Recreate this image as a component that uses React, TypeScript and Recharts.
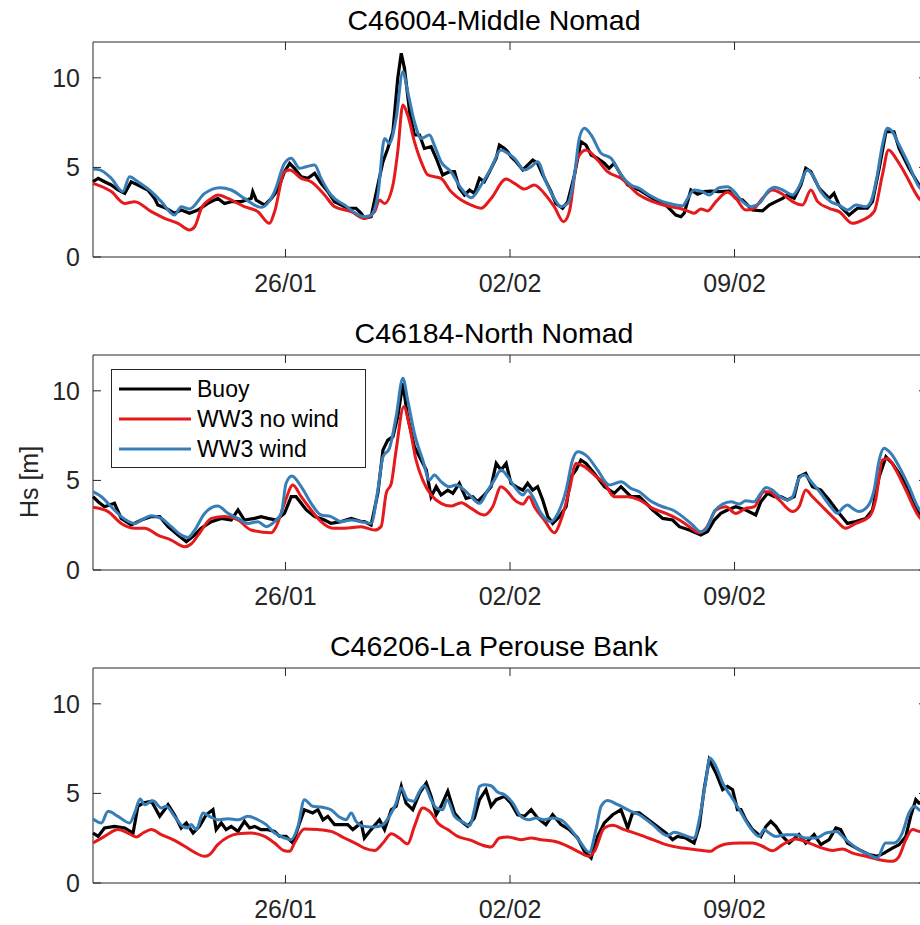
import { LineChart, Line, XAxis, YAxis, ReferenceArea, Legend } from 'recharts'

type Pt = [number, number]

// time axis: days since 20/01 00:00
const dayTicks = [6, 13, 20]
const dayLabels = ['26/01', '02/02', '09/02']
const hsTicks = [0, 5, 10]
const stations = ['C46004-Middle Nomad', 'C46184-North Nomad', 'C46206-La Perouse Bank']
const seriesNames = ['Buoy', 'WW3 no wind', 'WW3 wind']
const seriesColors = ['#000000', '#e41a1c', '#377eb8']

// C46004 - Middle Nomad
const middleBuoy: Pt[] = [
  [0, 4.2], [0.16, 4.39], [0.36, 4.2], [0.57, 4.02], [0.78, 3.74], [0.99, 3.55], [1.19, 4.2], [1.4, 4.02],
  [1.71, 3.74], [1.92, 3.27], [2.02, 2.9], [2.28, 2.72], [2.54, 2.44], [2.75, 2.62], [3.01, 2.44], [3.27, 2.62],
  [3.58, 2.99], [3.89, 3.27], [4.1, 2.99], [4.31, 3.09], [4.62, 3.09], [4.93, 3.27], [4.98, 3.65], [5.09, 3.18],
  [5.35, 2.9], [5.56, 3.27], [5.76, 3.74], [5.97, 4.76], [6.13, 5.23], [6.28, 4.95], [6.49, 4.48], [6.7, 4.39],
  [6.91, 4.67], [7.11, 4.11], [7.32, 3.65], [7.53, 3.09], [7.94, 2.72], [8.2, 2.72], [8.36, 2.44],
  [8.46, 2.16], [8.67, 2.25], [8.88, 4.02], [9.04, 5.32], [9.19, 6.06], [9.35, 6.99], [9.5, 9.97], [9.61, 11.37],
  [9.71, 10.53], [9.87, 8.11], [10.02, 6.81], [10.18, 6.81], [10.33, 6.06], [10.54, 6.16], [10.7, 5.51],
  [10.9, 4.58], [11.11, 4.76], [11.27, 4.76], [11.42, 3.83], [11.58, 3.46], [11.74, 3.74], [11.89, 3.55],
  [12.05, 4.39], [12.2, 4.2], [12.36, 4.76], [12.57, 5.51], [12.67, 6.25], [12.83, 6.06], [12.93, 5.88],
  [13.03, 5.6], [13.19, 5.32], [13.4, 4.86], [13.55, 5.13], [13.71, 5.41], [13.86, 5.23], [14.02, 4.58],
  [14.28, 3.65], [14.43, 2.99], [14.64, 2.72], [14.8, 3.09], [15.01, 4.58], [15.21, 6.44], [15.37, 6.25],
  [15.53, 5.69], [15.73, 5.51], [15.94, 5.23], [16.09, 4.95], [16.25, 5.23], [16.46, 4.58], [16.67, 4.02],
  [17.03, 3.74], [17.45, 3.27], [17.86, 2.9], [18.17, 2.34], [18.33, 2.25], [18.43, 2.44], [18.64, 3.74],
  [18.85, 3.5], [19.05, 3.65], [19.26, 3.68], [19.52, 3.65], [19.83, 3.68], [20.04, 3.27], [20.25, 3.18],
  [20.56, 2.62], [20.87, 2.57], [21.08, 2.9], [21.29, 3.09], [21.5, 3.27], [21.65, 3.46], [21.86, 3.27],
  [22.07, 4.02], [22.22, 4.95], [22.38, 4.76], [22.64, 3.83], [22.95, 3.27], [23.1, 3.55], [23.26, 2.9],
  [23.57, 2.34], [23.83, 2.72], [24.14, 2.72], [24.3, 3.09], [24.51, 4.95], [24.72, 6.99], [24.97, 6.99],
  [25.13, 6.06], [25.44, 4.95], [25.75, 4.02], [26, 3.5],
]
const middleNoWind: Pt[] = [
  [0, 4.11], [0.57, 3.65], [0.99, 2.99], [1.3, 3.09], [1.82, 2.53], [2.23, 2.16], [2.65, 1.88], [3.01, 1.51],
  [3.17, 1.69], [3.38, 2.72], [3.69, 3.27], [3.89, 3.46], [4.21, 3.27], [4.72, 2.81], [5.14, 2.53], [5.5, 1.88],
  [5.66, 2.53], [5.97, 4.76], [6.13, 4.86], [6.49, 4.39], [6.8, 4.2], [7.22, 3.46], [7.53, 2.81], [8.05, 2.53],
  [8.46, 2.16], [8.78, 2.53], [8.93, 3.18], [9.09, 2.99], [9.35, 4.02], [9.5, 5.88], [9.66, 8.48], [9.81, 7.92],
  [10.02, 6.44], [10.23, 5.32], [10.44, 4.58], [10.85, 4.39], [11.16, 3.65], [11.48, 3.18], [11.79, 2.9],
  [12.1, 2.72], [12.41, 3.27], [12.88, 4.35], [13.14, 4.11], [13.45, 3.79], [13.76, 4.02], [14.07, 3.55],
  [14.38, 2.81], [14.67, 1.97], [14.85, 2.53], [15.11, 5.51], [15.37, 5.97], [15.73, 5.41], [16.04, 4.76],
  [16.46, 4.39], [17.03, 3.46], [17.45, 3.09], [17.86, 2.86], [18.28, 2.72], [18.59, 2.53], [18.74, 2.44],
  [18.95, 2.68], [19.16, 2.57], [19.42, 3.09], [19.78, 3.61], [20.04, 3.27], [20.35, 2.62], [20.61, 2.72],
  [20.87, 3.27], [21.18, 3.74], [21.5, 3.5], [21.81, 3.09], [22.12, 2.9], [22.38, 3.74], [22.59, 3.09],
  [22.95, 2.72], [23.26, 2.53], [23.68, 1.88], [23.99, 2.06], [24.35, 2.53], [24.61, 4.58], [24.8, 5.97],
  [25.03, 5.51], [25.34, 4.58], [25.75, 3.27], [26, 2.9],
]
const middleWind: Pt[] = [
  [0, 4.91], [0.21, 4.86], [0.57, 4.39], [0.93, 3.65], [1.14, 4.48], [1.4, 4.2], [1.82, 3.65], [2.13, 3.09],
  [2.54, 2.34], [2.75, 2.81], [3.01, 2.68], [3.48, 3.55], [3.95, 3.87], [4.31, 3.74], [4.72, 3.27], [5.24, 2.77],
  [5.66, 3.65], [5.97, 5.23], [6.18, 5.51], [6.44, 4.95], [6.65, 5.04], [6.91, 5.13], [7.11, 4.39], [7.42, 3.46],
  [7.84, 2.9], [8.46, 2.25], [8.67, 2.34], [8.88, 3.46], [9.09, 6.62], [9.24, 6.34], [9.45, 7.74], [9.66, 10.34],
  [9.81, 9.23], [10.02, 7.55], [10.23, 6.62], [10.49, 6.81], [10.64, 6.25], [10.85, 5.32], [11.16, 4.76],
  [11.48, 3.83], [11.79, 3.31], [12.1, 4.02], [12.41, 4.95], [12.72, 5.97], [12.93, 5.79], [13.14, 5.51],
  [13.45, 4.86], [13.66, 5.04], [13.86, 5.32], [14.12, 4.2], [14.38, 3.27], [14.59, 2.81], [14.8, 2.99],
  [15.01, 4.58], [15.16, 6.62], [15.32, 7.18], [15.53, 6.81], [15.84, 5.79], [16.15, 5.51], [16.46, 4.58],
  [16.77, 4.02], [17.03, 3.83], [17.34, 3.46], [17.76, 3.09], [18.07, 2.94], [18.38, 2.86], [18.54, 3.27],
  [18.74, 3.74], [19.0, 3.65], [19.21, 3.46], [19.52, 3.87], [19.78, 3.92], [19.99, 3.65], [20.25, 3.09],
  [20.51, 2.81], [20.77, 2.99], [21.08, 3.74], [21.24, 3.89], [21.5, 3.74], [21.81, 3.46], [22.01, 3.92],
  [22.27, 4.86], [22.43, 4.58], [22.69, 3.65], [23.0, 3.09], [23.26, 2.9], [23.52, 2.62], [23.78, 2.9],
  [24.09, 2.81], [24.25, 3.09], [24.45, 4.58], [24.61, 6.25], [24.77, 7.18], [24.92, 6.99], [25.13, 6.25],
  [25.44, 5.13], [25.72, 4.0], [26, 3.5],
]

// C46184 - North Nomad
const northBuoy: Pt[] = [
  [0, 4.09], [0.16, 3.81], [0.36, 3.53], [0.67, 3.72], [0.88, 2.88], [1.19, 2.51], [1.51, 2.79], [1.82, 2.98],
  [2.08, 2.98], [2.34, 2.42], [2.65, 1.95], [2.91, 1.58], [3.17, 1.95], [3.37, 2.33], [3.69, 2.7], [4.0, 2.88],
  [4.31, 2.79], [4.52, 3.35], [4.72, 2.79], [5.04, 2.88], [5.24, 2.98], [5.45, 2.88], [5.71, 2.79], [5.97, 3.16],
  [6.18, 4.09], [6.33, 4.09], [6.49, 3.72], [6.65, 3.35], [6.91, 2.98], [7.22, 2.79], [7.42, 2.6], [7.74, 2.7],
  [8.05, 2.88], [8.36, 2.7], [8.46, 2.7], [8.67, 2.51], [8.88, 4.28], [9.04, 6.7], [9.19, 7.25], [9.35, 7.44],
  [9.5, 8.56], [9.66, 10.42], [9.81, 8.56], [10.02, 6.88], [10.23, 6.14], [10.39, 5.58], [10.54, 4.09],
  [10.7, 4.65], [10.85, 4.19], [11.06, 4.46], [11.22, 4.28], [11.42, 4.84], [11.63, 4.0], [11.84, 4.09],
  [11.99, 3.81], [12.2, 4.19], [12.41, 4.65], [12.57, 5.95], [12.72, 5.58], [12.88, 5.95], [13.03, 4.84],
  [13.19, 4.65], [13.4, 4.46], [13.55, 4.84], [13.71, 4.46], [13.86, 4.65], [14.02, 3.91], [14.18, 2.98],
  [14.33, 2.6], [14.54, 2.98], [14.75, 3.53], [14.9, 5.21], [15.06, 5.58], [15.21, 6.14], [15.37, 5.95],
  [15.63, 5.39], [15.94, 4.65], [16.25, 4.28], [16.46, 4.65], [16.77, 4.09], [17.03, 4.09], [17.45, 3.35],
  [17.76, 2.88], [18.07, 2.79], [18.28, 2.42], [18.59, 2.23], [18.95, 1.95], [19.16, 2.14], [19.37, 2.79],
  [19.57, 3.16], [19.78, 3.35], [20.04, 3.53], [20.35, 3.35], [20.66, 3.07], [20.82, 3.81], [21.03, 4.28],
  [21.24, 4.09], [21.44, 4.09], [21.65, 3.91], [21.86, 4.09], [22.01, 5.21], [22.22, 5.39], [22.43, 4.65],
  [22.69, 4.46], [22.95, 3.91], [23.26, 3.16], [23.52, 2.6], [23.78, 2.7], [24.09, 2.88], [24.3, 3.35],
  [24.51, 5.21], [24.72, 6.32], [24.92, 5.95], [25.13, 5.39], [25.44, 4.46], [25.75, 3.16], [26, 2.7],
]
const northNoWind: Pt[] = [
  [0, 3.5], [0.47, 3.26], [0.88, 2.6], [1.3, 2.33], [1.61, 2.33], [2.02, 1.95], [2.44, 1.67], [2.86, 1.3],
  [3.06, 1.45], [3.32, 2.05], [3.69, 2.88], [4.1, 2.98], [4.52, 2.79], [4.93, 2.23], [5.56, 2.08], [5.71, 2.42],
  [5.97, 3.72], [6.23, 4.74], [6.49, 4.09], [6.8, 3.35], [7.11, 2.7], [7.48, 2.33], [7.84, 2.33], [8.36, 2.42],
  [8.78, 2.23], [8.98, 2.42], [9.14, 4.28], [9.3, 4.84], [9.45, 6.7], [9.69, 9.11], [9.87, 8.0], [10.07, 6.14],
  [10.28, 5.02], [10.54, 4.19], [10.85, 3.72], [11.16, 3.57], [11.48, 3.76], [11.79, 3.44], [12.2, 3.07],
  [12.46, 3.53], [12.72, 4.65], [12.88, 4.46], [13.14, 3.91], [13.4, 3.68], [13.6, 4.09], [13.76, 3.53],
  [14.07, 2.79], [14.38, 2.08], [14.59, 2.79], [14.85, 4.46], [15.06, 5.95], [15.32, 5.77], [15.63, 5.3],
  [15.94, 4.84], [16.25, 4.09], [16.67, 4.09], [17.03, 3.91], [17.45, 3.44], [17.86, 3.16], [18.28, 2.79],
  [18.59, 2.42], [18.9, 2.08], [19.11, 2.33], [19.42, 3.35], [19.73, 3.53], [20.04, 3.16], [20.35, 3.44],
  [20.61, 3.53], [20.92, 4.37], [21.08, 4.37], [21.39, 3.91], [21.81, 3.26], [22.01, 3.53], [22.22, 4.46],
  [22.43, 4.09], [22.74, 3.53], [23.16, 2.79], [23.47, 2.33], [23.78, 2.6], [24.2, 2.98], [24.4, 3.91],
  [24.61, 6.14], [24.77, 6.23], [25.03, 5.58], [25.34, 4.46], [25.75, 2.98], [26, 2.6],
]
const northWind: Pt[] = [
  [0, 4.37], [0.26, 4.09], [0.57, 3.53], [0.88, 2.98], [1.3, 2.6], [1.51, 2.79], [1.82, 3.03], [2.13, 2.88],
  [2.44, 2.42], [2.75, 1.95], [2.96, 1.82], [3.17, 2.23], [3.48, 3.16], [3.89, 3.57], [4.21, 3.16], [4.52, 2.88],
  [4.83, 2.6], [5.14, 2.7], [5.4, 2.42], [5.66, 2.7], [5.87, 3.16], [6.02, 4.84], [6.2, 5.25], [6.49, 4.65],
  [6.8, 3.72], [7.11, 3.07], [7.42, 2.98], [7.74, 2.7], [8.05, 2.79], [8.36, 2.7], [8.67, 2.6], [8.88, 4.46],
  [9.04, 6.32], [9.24, 6.79], [9.45, 8.56], [9.66, 10.7], [9.81, 9.49], [10.02, 7.63], [10.28, 6.14],
  [10.49, 5.02], [10.64, 5.3], [10.85, 4.93], [11.11, 4.65], [11.32, 4.74], [11.58, 4.46], [11.79, 4.09],
  [12.05, 3.72], [12.31, 4.46], [12.51, 5.02], [12.72, 5.58], [12.93, 5.21], [13.14, 4.65], [13.4, 4.19],
  [13.55, 4.46], [13.71, 4.09], [13.97, 3.16], [14.28, 2.7], [14.49, 3.16], [14.75, 4.46], [14.95, 6.14],
  [15.11, 6.6], [15.42, 6.32], [15.73, 5.58], [16.1, 4.74], [16.46, 4.93], [16.77, 4.56], [17.03, 4.37],
  [17.34, 3.91], [17.76, 3.53], [18.07, 3.35], [18.38, 2.98], [18.69, 2.51], [18.95, 2.14], [19.16, 2.42],
  [19.37, 3.26], [19.63, 3.68], [19.89, 3.81], [20.15, 3.68], [20.35, 3.87], [20.61, 3.81], [20.82, 4.28],
  [20.98, 4.61], [21.18, 4.46], [21.39, 4.13], [21.65, 3.91], [21.81, 4.09], [22.01, 5.12], [22.17, 5.3],
  [22.43, 4.84], [22.69, 4.28], [23.0, 3.53], [23.21, 3.16], [23.36, 3.44], [23.52, 3.63], [23.68, 3.44],
  [23.88, 3.26], [24.14, 3.53], [24.35, 4.46], [24.51, 6.14], [24.66, 6.79], [24.87, 6.51], [25.13, 5.77],
  [25.44, 4.65], [25.72, 3.5], [26, 2.9],
]

// C46206 - La Perouse Bank
const perouseBuoy: Pt[] = [
  [0, 2.79], [0.16, 2.6], [0.36, 3.07], [0.67, 3.16], [0.99, 3.07], [1.25, 2.79], [1.4, 4.28], [1.56, 4.46],
  [1.82, 4.56], [1.97, 4.09], [2.08, 3.72], [2.23, 4.09], [2.34, 4.37], [2.54, 3.81], [2.75, 3.07], [2.91, 3.35],
  [3.12, 2.79], [3.32, 3.16], [3.53, 3.81], [3.74, 4.09], [3.84, 2.98], [4.0, 3.35], [4.15, 2.98], [4.31, 3.16],
  [4.52, 2.88], [4.72, 3.44], [4.88, 3.07], [5.04, 3.16], [5.24, 2.98], [5.45, 2.98], [5.66, 2.88], [5.82, 2.6],
  [6.02, 2.6], [6.23, 2.23], [6.44, 3.35], [6.59, 4.09], [6.85, 3.91], [7.01, 4.09], [7.17, 3.53], [7.32, 3.72],
  [7.53, 3.26], [7.74, 3.26], [7.94, 3.26], [8.1, 2.98], [8.36, 3.35], [8.46, 2.51], [8.67, 2.98], [8.93, 3.53],
  [9.09, 2.98], [9.3, 4.09], [9.45, 4.28], [9.61, 5.39], [9.76, 4.46], [9.97, 4.09], [10.18, 5.02], [10.39, 5.58],
  [10.54, 4.84], [10.7, 3.81], [10.85, 4.28], [11.06, 5.12], [11.27, 3.91], [11.48, 3.44], [11.68, 3.16],
  [11.89, 3.63], [12.05, 4.65], [12.25, 5.21], [12.41, 4.28], [12.57, 4.65], [12.83, 4.84], [13.03, 4.46],
  [13.24, 3.81], [13.45, 3.72], [13.66, 4.09], [13.86, 3.63], [14.12, 3.26], [14.33, 3.81], [14.59, 3.26],
  [14.85, 2.98], [15.11, 2.51], [15.32, 1.77], [15.53, 1.4], [15.73, 2.6], [15.94, 3.35], [16.2, 3.81],
  [16.46, 4.09], [16.67, 3.07], [16.82, 3.91], [17.03, 3.91], [17.45, 3.35], [17.86, 2.79], [18.07, 2.42],
  [18.22, 2.6], [18.48, 2.51], [18.74, 2.23], [18.9, 3.16], [19.05, 5.21], [19.21, 6.88], [19.42, 6.14],
  [19.63, 5.21], [19.78, 5.39], [19.94, 5.21], [20.09, 4.09], [20.2, 4.09], [20.35, 3.53], [20.56, 2.98],
  [20.82, 2.6], [20.98, 3.16], [21.13, 3.44], [21.29, 3.16], [21.5, 2.6], [21.7, 2.23], [22.01, 2.7],
  [22.22, 2.23], [22.48, 2.7], [22.69, 2.14], [22.95, 2.42], [23.16, 3.07], [23.31, 2.98], [23.52, 2.23],
  [23.88, 1.86], [24.2, 1.58], [24.45, 1.49], [24.66, 1.67], [24.92, 1.95], [25.13, 2.14], [25.34, 2.6],
  [25.49, 3.72], [25.65, 4.65], [25.75, 4.46], [26, 4.6],
]
const perouseNoWind: Pt[] = [
  [0, 2.23], [0.36, 2.6], [0.78, 2.98], [1.09, 2.79], [1.35, 2.57], [1.56, 2.79], [1.82, 2.98], [2.13, 2.7],
  [2.49, 2.42], [2.86, 2.05], [3.17, 1.71], [3.48, 1.49], [3.63, 1.58], [3.89, 2.14], [4.21, 2.57], [4.52, 2.75],
  [4.93, 2.79], [5.35, 2.6], [5.66, 2.23], [5.97, 1.8], [6.13, 1.77], [6.28, 2.23], [6.59, 3.01], [7.01, 2.98],
  [7.42, 2.88], [7.84, 2.51], [8.26, 2.14], [8.46, 1.95], [8.78, 1.82], [9.04, 2.23], [9.3, 2.75], [9.55, 2.51],
  [9.81, 2.19], [10.02, 3.16], [10.28, 4.19], [10.54, 3.91], [10.75, 3.35], [11.06, 2.98], [11.37, 2.6],
  [11.79, 2.38], [12.1, 2.14], [12.41, 2.01], [12.67, 2.51], [12.93, 2.57], [13.34, 2.42], [13.66, 2.51],
  [13.97, 2.42], [14.38, 2.33], [14.69, 2.14], [15.11, 1.77], [15.47, 1.49], [15.63, 1.77], [15.94, 3.07],
  [16.2, 3.22], [16.56, 2.98], [17.03, 2.7], [17.45, 2.42], [17.86, 2.14], [18.38, 1.95], [18.8, 1.86],
  [19.26, 1.77], [19.42, 1.95], [19.73, 2.18], [20.15, 2.23], [20.56, 2.23], [20.87, 2.05], [21.18, 1.8],
  [21.5, 2.14], [21.91, 2.46], [22.33, 2.23], [22.74, 1.95], [23.05, 1.82], [23.36, 1.9], [23.68, 1.67],
  [24.09, 1.49], [24.51, 1.3], [24.92, 1.21], [25.13, 1.49], [25.34, 2.42], [25.55, 2.98], [25.75, 2.88],
  [26, 2.8],
]
const perouseWind: Pt[] = [
  [0, 3.57], [0.26, 3.35], [0.47, 4.0], [0.78, 3.72], [1.14, 3.35], [1.3, 3.91], [1.47, 4.69], [1.61, 4.37],
  [1.87, 4.59], [2.13, 4.19], [2.28, 4.28], [2.54, 3.72], [2.8, 3.16], [2.96, 3.07], [3.06, 3.26], [3.22, 2.98],
  [3.43, 3.91], [3.63, 3.72], [3.89, 3.53], [4.21, 3.59], [4.52, 3.53], [4.83, 3.72], [5.14, 3.53], [5.4, 3.26],
  [5.66, 2.79], [5.97, 2.51], [6.18, 2.42], [6.39, 3.16], [6.59, 4.65], [6.85, 4.28], [7.11, 4.24], [7.42, 4.09],
  [7.68, 3.68], [7.89, 3.53], [8.05, 3.91], [8.2, 3.44], [8.46, 3.16], [8.78, 3.13], [9.04, 3.26], [9.24, 3.72],
  [9.45, 4.46], [9.61, 5.3], [9.81, 4.65], [10.0, 4.56], [10.18, 5.12], [10.33, 5.43], [10.54, 4.65],
  [10.7, 4.19], [10.9, 4.09], [11.04, 4.65], [11.27, 3.72], [11.58, 3.35], [11.74, 3.2], [11.89, 4.09],
  [12.05, 5.39], [12.2, 5.49], [12.41, 5.43], [12.62, 5.06], [12.83, 4.93], [13.09, 4.46], [13.34, 3.72],
  [13.6, 3.53], [13.81, 3.63], [14.07, 3.53], [14.33, 3.63], [14.59, 3.53], [14.9, 2.98], [15.21, 2.23],
  [15.47, 1.71], [15.68, 2.98], [15.84, 4.28], [16.04, 4.61], [16.36, 4.37], [16.77, 4.0], [17.03, 3.81],
  [17.45, 3.26], [17.91, 2.64], [18.12, 2.83], [18.38, 2.7], [18.74, 2.51], [18.9, 3.53], [19.11, 5.77],
  [19.23, 6.98], [19.42, 6.51], [19.63, 5.58], [19.89, 4.84], [20.15, 4.09], [20.46, 3.16], [20.77, 2.6],
  [20.92, 2.98], [21.08, 2.79], [21.29, 2.6], [21.6, 2.7], [21.91, 2.7], [22.22, 2.51], [22.53, 2.51],
  [22.85, 2.79], [23.16, 2.88], [23.47, 2.42], [23.88, 1.86], [24.2, 1.58], [24.45, 1.4], [24.71, 2.23],
  [24.97, 2.23], [25.23, 2.79], [25.44, 3.91], [25.6, 4.28], [25.75, 4.09], [26, 3.9],
]

const panelSeries: Pt[][][] = [
  [middleBuoy, middleNoWind, middleWind],
  [northBuoy, northNoWind, northWind],
  [perouseBuoy, perouseNoWind, perouseWind],
]

const FONT = '"Liberation Sans", Arial, Helvetica, sans-serif'
const AXIS = '#262626'

const CHART_W = 940
const CHART_H = 270
const PLOT_TOP = 10
const PLOT_BOTTOM = 225
const PLOT_LEFT = 93
const PLOT_RIGHT = 927
const TICK_LEN = 8
const panelTops = [32, 345, 658]
const titleBaselines = [30, 343, 656]

const toRows = (pts: Pt[]) => pts.map(([t, hs]) => ({ t, hs }))

function XTick({ x, payload }: any) {
  const label = dayLabels[dayTicks.indexOf(payload.value)]
  return (
    <g>
      <line x1={x} x2={x} y1={PLOT_BOTTOM} y2={PLOT_BOTTOM - TICK_LEN} stroke={AXIS} />
      <line x1={x} x2={x} y1={PLOT_TOP} y2={PLOT_TOP + TICK_LEN} stroke={AXIS} />
      <text x={x} y={PLOT_BOTTOM + 35} textAnchor="middle" fontSize={25} fontFamily={FONT} fill={AXIS}>
        {label}
      </text>
    </g>
  )
}

function YTick({ y, payload }: any) {
  return (
    <g>
      <line x1={PLOT_LEFT} x2={PLOT_LEFT + TICK_LEN} y1={y} y2={y} stroke={AXIS} />
      <line x1={PLOT_RIGHT} x2={PLOT_RIGHT - TICK_LEN} y1={y} y2={y} stroke={AXIS} />
      <text x={80} y={y + 9} textAnchor="end" fontSize={25} fontFamily={FONT} fill={AXIS}>
        {payload.value}
      </text>
    </g>
  )
}

function LegendBox({ payload }: any) {
  return (
    <svg width={256} height={100} style={{ display: 'block' }}>
      <rect x={0.5} y={0.5} width={254} height={98} fill="#fff" stroke={AXIS} />
      {(payload || []).map((p: any, i: number) => (
        <g key={p.value}>
          <line x1={8} x2={80} y1={20 + 30 * i} y2={20 + 30 * i} stroke={p.color} strokeWidth={3} />
          <text x={86} y={28 + 30 * i} fontSize={23} fontFamily={FONT} fill="#000">
            {p.value}
          </text>
        </g>
      ))}
    </svg>
  )
}

function Panel({ index }: { index: number }) {
  const series = panelSeries[index]
  return (
    <div style={{ position: 'absolute', left: 0, top: panelTops[index] }}>
      <LineChart
        width={CHART_W}
        height={CHART_H}
        margin={{ top: PLOT_TOP, right: CHART_W - PLOT_RIGHT, bottom: 0, left: 0 }}
      >
        <XAxis
          type="number"
          dataKey="t"
          domain={[0, 26]}
          ticks={dayTicks}
          interval={0}
          height={CHART_H - PLOT_BOTTOM}
          axisLine={false}
          tickLine={false}
          tick={XTick}
        />
        <YAxis
          type="number"
          domain={[0, 12]}
          ticks={hsTicks}
          interval={0}
          width={PLOT_LEFT}
          axisLine={false}
          tickLine={false}
          tick={YTick}
        />
        <ReferenceArea x1={0} x2={26} y1={0} y2={12} fill="none" stroke={AXIS} strokeWidth={1} />
        {series.map((pts, i) => (
          <Line
            key={seriesNames[i]}
            data={toRows(pts)}
            dataKey="hs"
            name={seriesNames[i]}
            type={i === 0 ? 'linear' : 'monotone'}
            stroke={seriesColors[i]}
            strokeWidth={i === 0 ? 3.2 : 3}
            dot={false}
            activeDot={false}
            isAnimationActive={false}
          />
        ))}
        {index === 1 && (
          <Legend
            layout="horizontal"
            verticalAlign="middle"
            align="center"
            content={LegendBox}
            wrapperStyle={{ position: 'absolute', left: 111, top: 24, width: 256, height: 100, bottom: 'auto', right: 'auto' }}
          />
        )}
      </LineChart>
    </div>
  )
}

export default function App() {
  return (
    <div
      style={{
        position: 'fixed',
        left: 0,
        top: 0,
        width: 920,
        height: 925,
        overflow: 'hidden',
        background: '#fff',
        fontFamily: FONT,
      }}
    >
      {stations.map((_, i) => (
        <Panel key={i} index={i} />
      ))}
      <svg
        width={920}
        height={925}
        style={{ position: 'absolute', left: 0, top: 0, pointerEvents: 'none' }}
      >
        {stations.map((name, i) => (
          <text key={name} x={494} y={titleBaselines[i]} textAnchor="middle" fontSize={28.5} fontFamily={FONT} fill="#000">
            {name}
          </text>
        ))}
        <text x={38} y={482} transform="rotate(-90 38 482)" textAnchor="middle" fontSize={25} fontFamily={FONT} fill={AXIS}>
          Hs [m]
        </text>
      </svg>
    </div>
  )
}
